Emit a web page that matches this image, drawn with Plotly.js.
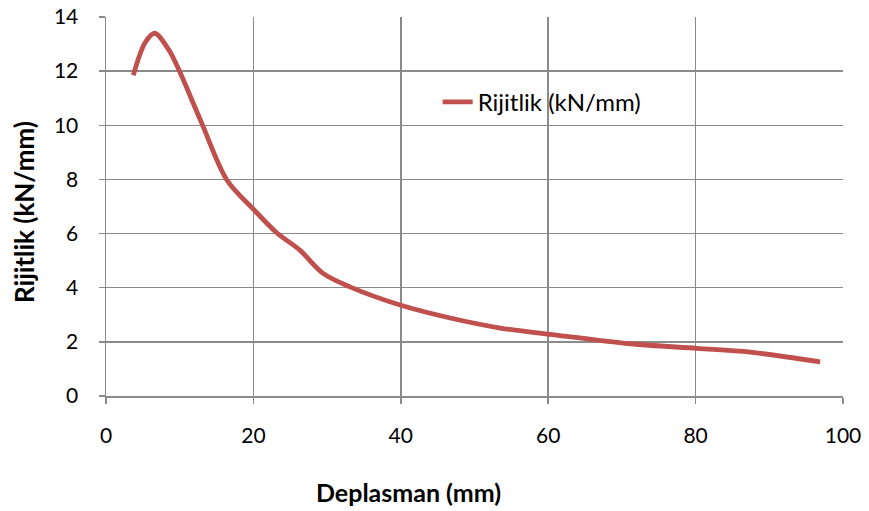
<!DOCTYPE html>
<html><head><meta charset="utf-8">
<script src="https://cdn.plot.ly/plotly-3.0.1.min.js"></script>
<style>html,body{margin:0;padding:0;background:#fff}#c{width:869px;height:511px}</style>
</head><body><div id="c"></div>
<script>
const seriesName = "Rijitlik (kN/mm)";
const deplasman = [3.7, 5.3, 6.6, 8.6, 12.8, 16.4, 20.0, 23.2, 26.3, 29.4, 33.1, 39.9, 46.7, 53.5, 60.2, 71.1, 80.2, 87.4, 96.9];
const rijitlik  = [11.85, 13.05, 13.4, 12.75, 10.2, 7.98, 6.9, 6.02, 5.39, 4.54, 4.03, 3.36, 2.88, 2.51, 2.28, 1.93, 1.76, 1.62, 1.26];
const xTicks = [0, 20, 40, 60, 80, 100];
const yTicks = [0, 2, 4, 6, 8, 10, 12, 14];
const xTitle = "Deplasman (mm)";
const yTitle = "Rijitlik (kN/mm)";

const font = "Lato, 'Liberation Sans', sans-serif";
const gridC = "#8a8a8a";
Plotly.newPlot("c", [{
  x: deplasman, y: rijitlik, name: seriesName, type: "scatter", mode: "lines",
  line: {color: "#C0504D", width: 4.8, shape: "spline", smoothing: 0.9}
}], {
  width: 869, height: 511,
  margin: {l: 106, r: 26, t: 17, b: 115},
  paper_bgcolor: "#fff", plot_bgcolor: "#fff",
  font: {family: font, size: 21, color: "#000"},
  showlegend: true,
  legend: {x: 0.45, y: 0.775, xanchor: "left", yanchor: "middle", bgcolor: "rgba(0,0,0,0)", font: {size: 24}},
  xaxis: {range: [0, 100], tickvals: xTicks, ticktext: xTicks.map(String), showgrid: true, gridcolor: gridC, gridwidth: 1.5,
          zeroline: false, showline: true, linecolor: gridC, linewidth: 1.5, ticks: "outside", ticklen: 6, tickcolor: gridC, tickwidth: 1.5,
          ticklabelstandoff: 14, fixedrange: true},
  yaxis: {range: [0, 14], tickvals: yTicks, ticktext: yTicks.map(String), showgrid: true, gridcolor: gridC, gridwidth: 1.5,
          zeroline: false, showline: true, linecolor: gridC, linewidth: 1.5, ticks: "outside", ticklen: 6, tickcolor: gridC, tickwidth: 1.5,
          ticklabelstandoff: 16, fixedrange: true},
  annotations: [
    {text: "<b>" + xTitle + "</b>", xref: "paper", yref: "paper", x: (408-106)/737, y: -(492-396)/379, xanchor: "center", yanchor: "middle", showarrow: false, font: {size: 25}},
    {text: "<b>" + yTitle + "</b>", xref: "paper", yref: "paper", x: -(106-24)/737, y: (396-212)/379, xanchor: "center", yanchor: "middle", textangle: -90, showarrow: false, font: {size: 26}}
  ]
}, {staticPlot: true});
</script></body></html>
